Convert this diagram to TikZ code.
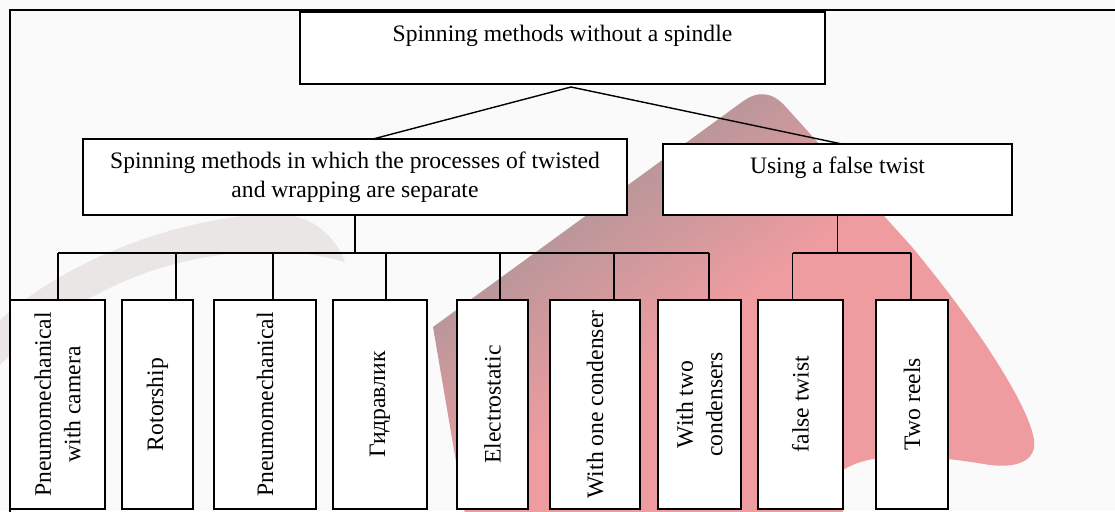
\documentclass[tikz,border=0pt]{standalone}
\usepackage{fontspec}
\setmainfont{Liberation Serif}
\definecolor{pinkbg}{RGB}{239,156,160}
\definecolor{mauvebg}{RGB}{180,150,153}
\definecolor{pagebg}{RGB}{250,250,250}
\definecolor{shadowbg}{RGB}{222,212,212}
\pgfdeclarehorizontalshading{cardshade}{100bp}{color(0bp)=(mauvebg); color(32bp)=(mauvebg); color(50bp)=(pinkbg); color(100bp)=(pinkbg)}
\begin{document}
\begin{tikzpicture}[x=0.5pt,y=-0.5pt,
  box/.style={draw=black,line width=1pt,fill=white,inner sep=0pt,outer sep=0pt,align=center,font=\fontsize{11.8}{14.75}\selectfont},
  vbox/.style={box,rotate=90,minimum width=104.5pt,minimum height=#1},
  conn/.style={line width=0.7pt},
  outerframe/.style={line width=1.1pt}]
\useasboundingbox (0,0) rectangle (1115,511);
\clip (0,0) rectangle (1115,511);
\fill[pagebg] (0,0) rectangle (1115,511);
% faint grey shadow on the left
\fill[shadowbg,opacity=0.5] (0,320) .. controls (60,265) and (170,218) .. (270,214) .. controls (310,212) and (335,235) .. (345,262) .. controls (300,248) and (220,245) .. (140,275) .. controls (80,298) and (35,330) .. (0,365) -- cycle;
% background card
\shade[shading=cardshade,shading angle=-54] (433,327) -- (742,102) .. controls (758,90) and (772,92) .. (785,106) -- (912,247) .. controls (985,335) and (1030,410) .. (1034,440) .. controls (1037,462) and (1015,468) .. (990,465) .. controls (930,455) and (875,450) .. (843,470) -- (843,520) -- (466,520) -- cycle;
% frame
\draw[outerframe] (1120,10) -- (10,10) -- (10,520);
% nodes
\node[box,minimum width=262.5pt,minimum height=36pt] (root) at (562.5,48) {Spinning methods without a spindle\\\mbox{}};
\node[box,minimum width=272pt,minimum height=38pt] (sep) at (355,177) {Spinning methods in which the processes of twisted\\and wrapping are separate};
\node[box,minimum width=174.5pt,minimum height=35.5pt] (fls) at (837.5,179.5) {Using a false twist\\\mbox{}};
\node[vbox=47.5pt] (b1) at (57.5,404.5) {Pneumomechanical\\with camera};
\node[vbox=35.5pt] (b2) at (157.5,404.5) {Rotorship};
\node[vbox=51pt] (b3) at (265,404.5) {Pneumomechanical};
\node[vbox=47pt] (b4) at (380,404.5) {Гидравлик};
\node[vbox=35.5pt] (b5) at (492.5,404.5) {Electrostatic};
\node[vbox=45pt] (b6) at (595,404.5) {With one condenser};
\node[vbox=41.5pt] (b7) at (699.5,404.5) {With two\\condensers};
\node[vbox=42.5pt] (b8) at (800.5,404) {false twist};
\node[vbox=36pt] (b9) at (912,404) {Two reels};
% connectors
\coordinate (apex) at (571,87);
\draw[conn] (apex) -- ([xshift=9pt]sep.north);
\draw[conn] (apex) -- ([xshift=2.25pt]fls.north);
\coordinate (busLa) at (58,253);
\coordinate (busLb) at (709,253);
\draw[conn] (sep.south) -- (sep.south |- busLa);
\draw[conn] (busLa) -- (busLb);
\foreach \xx/\nn in {58/b1,176/b2,273/b3,386/b4,500/b5,614/b6,709/b7}
  \draw[conn] (\xx,253) -- (\nn.east -| \xx,253);
\coordinate (busRa) at (792.5,253);
\coordinate (busRb) at (911,253);
\draw[conn] (fls.south) -- (fls.south |- busRa);
\draw[conn] (busRa) -- (busRb);
\foreach \xx/\nn in {792.5/b8,911/b9}
  \draw[conn] (\xx,253) -- (\nn.east -| \xx,253);
\end{tikzpicture}
\end{document}
